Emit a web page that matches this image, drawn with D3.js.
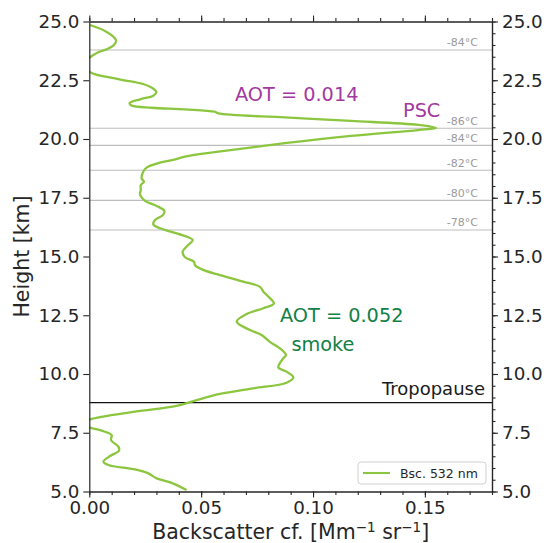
<!DOCTYPE html>
<html><head><meta charset="utf-8">
<script src="https://cdn.jsdelivr.net/npm/d3@7"></script>
<style>body{margin:0;background:#fff}text{font-family:"DejaVu Sans",sans-serif}</style>
</head><body><svg id="c" width="547" height="543"></svg>
<script>
const heights = [24.85,24.6,24.28,24.17,23.97,23.82,23.69,23.48,23.2,22.84,22.55,22.34,22.18,21.99,21.84,21.69,21.52,21.42,21.33,21.26,21.16,21.09,20.92,20.77,20.6,20.47,20.38,20.13,19.82,19.46,19.25,19.11,18.97,18.78,18.61,18.33,18.18,18.04,17.83,17.62,17.37,17.15,16.95,16.77,16.55,16.37,16.2,15.96,15.7,15.49,15.2,14.97,14.78,14.64,14.43,14.21,13.93,13.71,13.5,13.36,13.0,12.8,12.55,12.23,11.87,11.66,11.37,11.09,10.81,10.67,10.28,10.1,9.86,9.63,9.39,9.15,8.89,8.64,8.4,8.07,7.9,7.72,7.59,7.4,7.19,6.91,6.74,6.51,6.27,6.13,5.94,5.77,5.56,5.37,5.06];
const bsc532 = [0.0003,0.007,0.0115,0.012,0.0107,0.0078,0.004,0.0003,-0.003,0.0003,0.013,0.024,0.028,0.030,0.0286,0.0227,0.018,0.019,0.028,0.0428,0.056,0.0577,0.0874,0.117,0.147,0.155,0.147,0.117,0.0874,0.0577,0.0428,0.0375,0.0308,0.0256,0.0241,0.0234,0.0244,0.023,0.023,0.0227,0.0249,0.0301,0.0335,0.033,0.0294,0.0286,0.0316,0.0398,0.0462,0.0442,0.0417,0.0428,0.0468,0.0472,0.0509,0.0584,0.0688,0.0763,0.0778,0.0793,0.0825,0.0778,0.0703,0.0659,0.0718,0.077,0.0807,0.0852,0.0879,0.0867,0.0845,0.0882,0.0912,0.0882,0.0733,0.0584,0.048,0.039,0.0204,0.0003,-0.003,0.0003,0.0055,0.010,0.0097,0.013,0.0133,0.0093,0.0063,0.0085,0.0204,0.0264,0.0301,0.0368,0.0435];
const tempHeights = [23.79,20.455,19.73,18.67,17.39,16.13];
const tempLabels = ["-84°C","-86°C","-84°C","-82°C","-80°C","-78°C"];
const tropopause = 8.78;
const xTicks = [0,0.05,0.10,0.15];
const yTicks = [5,7.5,10,12.5,15,17.5,20,22.5,25];

const svg = d3.select("#c");
const L=89.3,R=492,T=21.5,B=491.5;
const x = d3.scaleLinear().domain([0,0.18]).range([L,R]);
const y = d3.scaleLinear().domain([5,25]).range([B,T]);
const ink="#262626";

svg.append("defs").append("clipPath").attr("id","clip").append("rect").attr("x",L).attr("y",T).attr("width",R-L).attr("height",B-T);

const g = svg.append("g");
tempHeights.forEach((h,i)=>{
  g.append("line").attr("x1",L).attr("x2",R).attr("y1",y(h)).attr("y2",y(h)).attr("stroke","#bdbdbd").attr("stroke-width",1.1);
  g.append("text").attr("x",478).attr("y",y(h)-3.5).attr("text-anchor","end").attr("font-size",11).attr("fill","#9a9a9a").text(tempLabels[i]);
});
g.append("line").attr("x1",L).attr("x2",R).attr("y1",y(tropopause)).attr("y2",y(tropopause)).attr("stroke","#111").attr("stroke-width",1.3);
g.append("text").attr("x",485).attr("y",395).attr("text-anchor","end").attr("font-size",18).attr("fill","#1a1a1a").text("Tropopause");

const line = d3.line().x(d=>x(d[0])).y(d=>y(d[1])).curve(d3.curveCatmullRom.alpha(0.5));
svg.append("path").datum(bsc532.map((v,i)=>[v,heights[i]])).attr("clip-path","url(#clip)")
  .attr("d",line).attr("fill","none").attr("stroke","#8cc63f").attr("stroke-width",2.3).attr("stroke-linejoin","round");

svg.append("text").attr("x",235).attr("y",101).attr("font-size",19.3).attr("fill","#a2399f").text("AOT = 0.014");
svg.append("text").attr("x",403).attr("y",117).attr("font-size",19.3).attr("fill","#a2399f").text("PSC");
svg.append("text").attr("x",280).attr("y",322).attr("font-size",19.3).attr("fill","#128047").text("AOT = 0.052");
svg.append("text").attr("x",291.5).attr("y",351).attr("font-size",19.3).attr("fill","#128047").text("smoke");

const fmtX = d3.format(".2f"), fmtY = d3.format(".1f");
const xMinor = d3.range(0,0.1801,0.01);
const yMinor = d3.range(5,25.01,0.5);
function styleAxis(sel){sel.select(".domain").attr("stroke",ink).attr("stroke-width",1.2);
  sel.selectAll(".tick line").attr("stroke",ink).attr("stroke-width",1.1);
  sel.selectAll(".tick text").attr("fill",ink).attr("font-size",18.3).attr("font-family","DejaVu Sans");}
svg.append("g").attr("transform",`translate(0,${B})`).call(d3.axisBottom(x).tickValues(xMinor).tickSize(3.5).tickFormat("").tickSizeOuter(0)).call(styleAxis);
svg.append("g").attr("transform",`translate(0,${T})`).call(d3.axisTop(x).tickValues(xMinor).tickSize(3.5).tickFormat("").tickSizeOuter(0)).call(styleAxis);
svg.append("g").attr("transform",`translate(${R},0)`).call(d3.axisRight(y).tickValues(yMinor).tickSize(3.5).tickFormat("").tickSizeOuter(0)).call(styleAxis);
svg.append("g").attr("transform",`translate(0,${B})`).call(d3.axisBottom(x).tickValues(xTicks).tickSize(6).tickPadding(4).tickFormat(fmtX).tickSizeOuter(0)).call(styleAxis);
svg.append("g").attr("transform",`translate(0,${T})`).call(d3.axisTop(x).tickValues(xTicks).tickSize(6).tickFormat("").tickSizeOuter(0)).call(styleAxis);
svg.append("g").attr("transform",`translate(${L},0)`).call(d3.axisLeft(y).tickValues(yTicks).tickSize(6).tickPadding(4).tickFormat(fmtY).tickSizeOuter(0)).call(styleAxis);
svg.append("g").attr("transform",`translate(${R},0)`).call(d3.axisRight(y).tickValues(yTicks).tickSize(6).tickPadding(4).tickFormat(fmtY).tickSizeOuter(0)).call(styleAxis);

const xl = svg.append("text").attr("x",(L+R)/2).attr("y",538.5).attr("text-anchor","middle").attr("font-size",20.5).attr("fill",ink);
xl.append("tspan").text("Backscatter cf. [Mm");
xl.append("tspan").attr("dy",-7).attr("font-size",13.5).text("−1");
xl.append("tspan").attr("dy",7).text(" sr");
xl.append("tspan").attr("dy",-7).attr("font-size",13.5).text("−1");
xl.append("tspan").attr("dy",7).text("]");
svg.append("text").attr("transform",`translate(29,${(T+B)/2}) rotate(-90)`).attr("text-anchor","middle").attr("font-size",20.5).attr("fill",ink).text("Height [km]");

const lg = svg.append("g");
lg.append("rect").attr("x",358).attr("y",462).attr("width",128).attr("height",22).attr("rx",3).attr("fill","#fff").attr("fill-opacity",0.8).attr("stroke","#d0d0d0");
lg.append("line").attr("x1",363).attr("x2",390).attr("y1",473).attr("y2",473).attr("stroke","#8cc63f").attr("stroke-width",2.1);
lg.append("text").attr("x",400).attr("y",477.5).attr("font-size",12.5).attr("fill",ink).text("Bsc. 532 nm");
</script></body></html>
